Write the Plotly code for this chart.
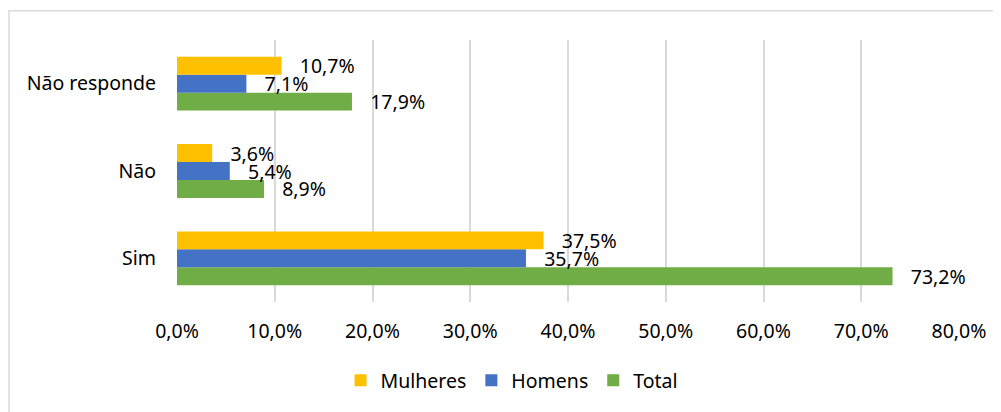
import plotly.graph_objects as go

categories = ["Sim", "Não", "Não responde"]
mulheres = [37.5, 3.6, 10.7]
homens = [35.7, 5.4, 7.1]
total = [73.2, 8.9, 17.9]
series_names = ["Mulheres", "Homens", "Total"]
colors = ["#FFC000", "#4472C4", "#70AD47"]
tick_vals = [0, 10, 20, 30, 40, 50, 60, 70, 80]
tick_text = ["0,0%", "10,0%", "20,0%", "30,0%", "40,0%", "50,0%", "60,0%", "70,0%", "80,0%"]

FONT = "Noto Sans"
FS = 19.5


def fmt(v):
    return "\u00a0\u00a0\u00a0" + f"{v:.1f}".replace(".", ",") + "%"


fig = go.Figure()
# Plotly draws the first trace at the bottom of a horizontal group; add Total first
for name, vals, col in [("Total", total, colors[2]), ("Homens", homens, colors[1]), ("Mulheres", mulheres, colors[0])]:
    fig.add_trace(go.Bar(
        y=categories, x=vals, name=name, orientation="h",
        marker=dict(color=col, line=dict(width=0)),
        text=[fmt(v) for v in vals], textposition="outside",
        constraintext="none", cliponaxis=False,
        textfont=dict(family=FONT, size=FS, color="#000000"),
    ))

fig.update_layout(
    width=993, height=404,
    margin=dict(l=169, r=42, t=32, b=104),
    paper_bgcolor="white", plot_bgcolor="white",
    barmode="group", bargap=0.384, bargroupgap=0,
    font=dict(family=FONT, size=FS, color="#000000"),
    showlegend=True,
    legend=dict(orientation="h", x=0.4278, xanchor="center", y=-0.30, yanchor="middle",
                traceorder="reversed", font=dict(family=FONT, size=FS)),
    xaxis=dict(range=[0, 80], tickvals=tick_vals, ticktext=tick_text,
               showgrid=True, gridcolor="#D9D9D9", gridwidth=1.5,
               zeroline=False, showline=False,
               ticks="outside", ticklen=12, tickcolor="rgba(0,0,0,0)",
               tickfont=dict(family=FONT, size=FS)),
    yaxis=dict(categoryorder="array", categoryarray=categories,
               showgrid=False, zeroline=False, showline=False,
               ticks="outside", ticklen=16, tickcolor="rgba(0,0,0,0)",
               tickfont=dict(family=FONT, size=FS)),
    shapes=[dict(type="rect", xref="paper", yref="paper",
                 x0=-0.2148, x1=1.2, y0=-0.5, y1=1.112,
                 line=dict(color="#D9D9D9", width=1.5), fillcolor="rgba(0,0,0,0)", layer="below")],
)

fig.write_html("out.html")
